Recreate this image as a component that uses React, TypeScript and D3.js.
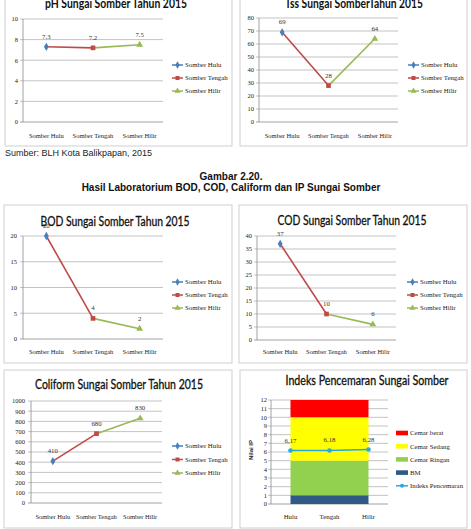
import * as d3 from "d3";

// sampling points along the river
const lokasi = ["Somber Hulu", "Somber Tengah", "Somber Hilir"];

// lab results, 2015
const phValues = [7.3, 7.2, 7.5];
const tssValues = [69, 28, 64];
const bodValues = [20, 4, 2];
const codValues = [37, 10, 6];
const coliformValues = [410, 680, 830];

// y-axis ticks for each parameter
const phTicks = [0, 2, 4, 6, 8, 10];
const tssTicks = [0, 10, 20, 30, 40, 50, 60, 70, 80];
const bodTicks = [0, 5, 10, 15, 20];
const codTicks = [0, 5, 10, 15, 20, 25, 30, 35, 40];
const coliformTicks = [0, 100, 200, 300, 400, 500, 600, 700, 800, 900, 1000];

// pollution index (IP)
const ipCategories = ["Hulu", "Tengah", "Hilir"];
const ipValues = [6.17, 6.18, 6.28];
const ipTicks = [0, 1, 2, 3, 4, 5, 6, 7, 8, 9, 10, 11, 12];
const ipClassNames = ["BM", "Cemar Ringan", "Cemar Sedang", "Cemar berat"];
const ipClassLimits = [0, 1, 5, 10, 12];

const SERIES_COLORS = ["#4a7ebb", "#be4b48", "#98b954"];
const SERIES_SYMBOLS = [d3.symbolDiamond, d3.symbolSquare, d3.symbolTriangle];
const CLASS_COLORS = ["#2f5a88", "#92d050", "#ffff00", "#ff0000"];
const IP_LINE = "#25a9e0";
const GRID = "#b4b4b4";
const AXIS = "#8a8a8a";
const FRAME = "#cfcfcf";
const SMALL_FONT = "'Liberation Serif', serif";
const TITLE_FONT = "Lato, 'Liberation Sans', sans-serif";
const SANS = "'Liberation Sans', Arial, sans-serif";

interface Box {
  x: number;
  y: number;
  w: number;
  h: number;
}

interface LineChartProps {
  frame: Box;
  title: string;
  titleX: number;
  titleY: number;
  titleLen: number;
  titleBold?: boolean;
  values: number[];
  ticks: number[];
  left: number;
  right: number;
  top: number;
  bottom: number;
  tickRight: number;
  xLabelY: number;
  legendX: number;
  legendY: number;
  legendStep: number;
}

const symbolPath = (type: d3.SymbolType, size: number) => d3.symbol(type, size)() || "";

const Title = (props: { x: number; y: number; len: number; bold?: boolean; children: string }) => (
  <text
    x={props.x}
    y={props.y}
    textAnchor="middle"
    fontFamily={TITLE_FONT}
    fontSize={12.5}
    fontWeight={props.bold ? 700 : 400}
    textLength={props.len}
    lengthAdjust="spacingAndGlyphs"
    fill="#111"
    stroke="#111"
    strokeWidth={props.bold ? 0 : 0.3}
  >
    {props.children}
  </text>
);

const LineChart = (p: LineChartProps) => {
  const x = d3.scalePoint<string>().domain(lokasi).range([p.left, p.right]).padding(0.5);
  const y = d3
    .scaleLinear()
    .domain([0, p.ticks[p.ticks.length - 1]])
    .range([p.bottom, p.top]);
  const pts = p.values.map((v, i) => ({ cx: x(lokasi[i]) || 0, cy: y(v), v }));

  return (
    <g>
      <rect x={p.frame.x} y={p.frame.y} width={p.frame.w} height={p.frame.h} fill="#fff" stroke={FRAME} />
      <Title x={p.titleX} y={p.titleY} len={p.titleLen} bold={p.titleBold}>
        {p.title}
      </Title>

      {/* value axis + gridlines */}
      {p.ticks.map((t) => (
        <g key={t}>
          <line x1={p.left - 3} x2={p.right} y1={y(t)} y2={y(t)} stroke={t === 0 ? AXIS : GRID} strokeWidth={0.8} />
          <text x={p.tickRight} y={y(t) + 2.3} textAnchor="end" fontFamily={SMALL_FONT} fontSize={6.5} fill="#222">
            {t}
          </text>
        </g>
      ))}
      <line x1={p.left} x2={p.left} y1={p.top} y2={p.bottom} stroke={AXIS} strokeWidth={0.8} />

      {lokasi.map((c) => (
        <text key={c} x={x(c)} y={p.xLabelY} textAnchor="middle" fontFamily={SMALL_FONT} fontSize={6.5} fill="#222">
          {c}
        </text>
      ))}

      {/* each segment takes the colour of the point it runs into */}
      {pts.slice(1).map((pt, i) => (
        <line
          key={i}
          x1={pts[i].cx}
          y1={pts[i].cy}
          x2={pt.cx}
          y2={pt.cy}
          stroke={SERIES_COLORS[i + 1]}
          strokeWidth={1.6}
        />
      ))}
      {pts.map((pt, i) => (
        <g key={i}>
          <path
            d={symbolPath(SERIES_SYMBOLS[i], i === 1 ? 22 : 20)}
            transform={`translate(${pt.cx},${pt.cy})`}
            fill={SERIES_COLORS[i]}
          />
          <text x={pt.cx} y={pt.cy - 8} textAnchor="middle" fontFamily={SMALL_FONT} fontSize={6.8} fill="#333">
            {pt.v}
          </text>
        </g>
      ))}

      {lokasi.map((c, i) => {
        const ly = p.legendY + i * p.legendStep;
        return (
          <g key={c}>
            <line x1={p.legendX} x2={p.legendX + 11} y1={ly} y2={ly} stroke={SERIES_COLORS[i]} strokeWidth={1.5} />
            <path
              d={symbolPath(SERIES_SYMBOLS[i], 16)}
              transform={`translate(${p.legendX + 5.5},${ly})`}
              fill={SERIES_COLORS[i]}
            />
            <text x={p.legendX + 13} y={ly + 2.3} fontFamily={SMALL_FONT} fontSize={6.8} fill="#222">
              {c}
            </text>
          </g>
        );
      })}
    </g>
  );
};

const IpChart = () => {
  const left = 271;
  const right = 388;
  const top = 400;
  const bottom = 504;
  const x = d3.scalePoint<string>().domain(ipCategories).range([left, right]).padding(0.5);
  const y = d3
    .scaleLinear()
    .domain([0, ipTicks[ipTicks.length - 1]])
    .range([bottom, top]);

  const band = d3
    .area<{ cat: string; lo: number; hi: number }>()
    .x((d) => x(d.cat) || 0)
    .y0((d) => y(d.lo))
    .y1((d) => y(d.hi));
  const line = d3
    .line<number>()
    .x((_, i) => x(ipCategories[i]) || 0)
    .y((d) => y(d));

  const legendX = 396;
  const legendY = 433;
  const legendStep = 13.2;
  const legendOrder = ipClassNames.map((_, i) => ipClassNames.length - 1 - i);

  return (
    <g>
      <rect x={240} y={370} width={227} height={158} fill="#fff" stroke={FRAME} />
      <Title x={367} y={385} len={163}>
        Indeks Pencemaran Sungai Somber
      </Title>

      {ipTicks.map((t) => (
        <g key={t}>
          <line x1={left - 3} x2={right} y1={y(t)} y2={y(t)} stroke={t === 0 ? AXIS : GRID} strokeWidth={0.8} />
          <text x={267} y={y(t) + 2.3} textAnchor="end" fontFamily={SMALL_FONT} fontSize={6.5} fill="#222">
            {t}
          </text>
        </g>
      ))}
      <line x1={left} x2={left} y1={top} y2={bottom} stroke={AXIS} strokeWidth={0.8} />
      <text
        transform="translate(253,450) rotate(-90)"
        textAnchor="middle"
        fontFamily={SANS}
        fontSize={6}
        fontWeight={700}
        fill="#222"
      >
        Nilai IP
      </text>

      {ipClassNames.map((name, k) => (
        <path
          key={name}
          d={band(ipCategories.map((cat) => ({ cat, lo: ipClassLimits[k], hi: ipClassLimits[k + 1] }))) || ""}
          fill={CLASS_COLORS[k]}
        />
      ))}

      {ipCategories.map((c) => (
        <text key={c} x={x(c)} y={518.5} textAnchor="middle" fontFamily={SMALL_FONT} fontSize={6.8} fill="#222">
          {c}
        </text>
      ))}

      <path d={line(ipValues) || ""} fill="none" stroke={IP_LINE} strokeWidth={1.6} />
      {ipValues.map((v, i) => (
        <g key={i}>
          <circle cx={x(ipCategories[i])} cy={y(v)} r={2.3} fill={IP_LINE} />
          <text
            x={x(ipCategories[i])}
            y={y(v) - 8}
            textAnchor="middle"
            fontFamily={SMALL_FONT}
            fontSize={6.8}
            fill="#333"
          >
            {v.toFixed(2).replace(".", ",")}
          </text>
        </g>
      ))}

      {legendOrder.map((k, row) => {
        const ly = legendY + row * legendStep;
        return (
          <g key={k}>
            <rect x={legendX} y={ly - 2.3} width={12} height={4.6} fill={CLASS_COLORS[k]} />
            <text x={legendX + 14} y={ly + 2.3} fontFamily={SMALL_FONT} fontSize={6.8} fill="#222">
              {ipClassNames[k]}
            </text>
          </g>
        );
      })}
      {(() => {
        const ly = legendY + ipClassNames.length * legendStep;
        return (
          <g>
            <line x1={legendX} x2={legendX + 12} y1={ly} y2={ly} stroke={IP_LINE} strokeWidth={1.5} />
            <circle cx={legendX + 6} cy={ly} r={2} fill={IP_LINE} />
            <text x={legendX + 14} y={ly + 2.3} fontFamily={SMALL_FONT} fontSize={6.8} fill="#222">
              Indeks Pencemaran
            </text>
          </g>
        );
      })()}
    </g>
  );
};

const App = () => {
  return (
    <svg
      width={471}
      height={529}
      viewBox="0 0 471 529"
      style={{ position: "absolute", left: 0, top: 0, background: "#fff" }}
    >
      <rect width={471} height={529} fill="#fff" />

      <LineChart
        frame={{ x: 5, y: -10, w: 227, h: 156 }}
        title="pH Sungai Somber Tahun 2015"
        titleX={116}
        titleY={8}
        titleLen={142}
        titleBold
        values={phValues}
        ticks={phTicks}
        left={23}
        right={163}
        top={19}
        bottom={122}
        tickRight={18}
        xLabelY={137.5}
        legendX={172}
        legendY={65}
        legendStep={13}
      />
      <LineChart
        frame={{ x: 240, y: -10, w: 227, h: 156 }}
        title="Tss Sungai SomberTahun 2015"
        titleX={354}
        titleY={8}
        titleLen={138}
        titleBold
        values={tssValues}
        ticks={tssTicks}
        left={259}
        right={398}
        top={18}
        bottom={122}
        tickRight={254}
        xLabelY={137.5}
        legendX={408}
        legendY={65}
        legendStep={13}
      />

      <text x={5} y={156} fontFamily={SANS} fontSize={9} fill="#222">
        Sumber: BLH Kota Balikpapan, 2015
      </text>
      <text x={231} y={180} textAnchor="middle" fontFamily={SANS} fontSize={10} fontWeight={700} fill="#111">
        Gambar 2.20.
      </text>
      <text x={231} y={191} textAnchor="middle" fontFamily={SANS} fontSize={10} fontWeight={700} fill="#111">
        Hasil Laboratorium BOD, COD, Caliform dan IP Sungai Somber
      </text>

      <LineChart
        frame={{ x: 4, y: 205, w: 228, h: 158 }}
        title="BOD Sungai Somber Tahun 2015"
        titleX={115}
        titleY={226}
        titleLen={149}
        values={bodValues}
        ticks={bodTicks}
        left={23}
        right={163}
        top={236}
        bottom={339}
        tickRight={17}
        xLabelY={353.5}
        legendX={172}
        legendY={282}
        legendStep={13}
      />
      <LineChart
        frame={{ x: 239, y: 205, w: 228, h: 158 }}
        title="COD Sungai Somber Tahun 2015"
        titleX={352}
        titleY={225}
        titleLen={149}
        values={codValues}
        ticks={codTicks}
        left={257}
        right={396}
        top={236}
        bottom={340}
        tickRight={252}
        xLabelY={353.5}
        legendX={407}
        legendY={282}
        legendStep={13}
      />
      <LineChart
        frame={{ x: 4, y: 370, w: 228, h: 158 }}
        title="Coliform Sungai Somber Tahun 2015"
        titleX={119}
        titleY={389}
        titleLen={168}
        values={coliformValues}
        ticks={coliformTicks}
        left={31}
        right={162}
        top={401}
        bottom={503}
        tickRight={25}
        xLabelY={518.5}
        legendX={172}
        legendY={446}
        legendStep={13.5}
      />
      <IpChart />
    </svg>
  );
};

export default App;
